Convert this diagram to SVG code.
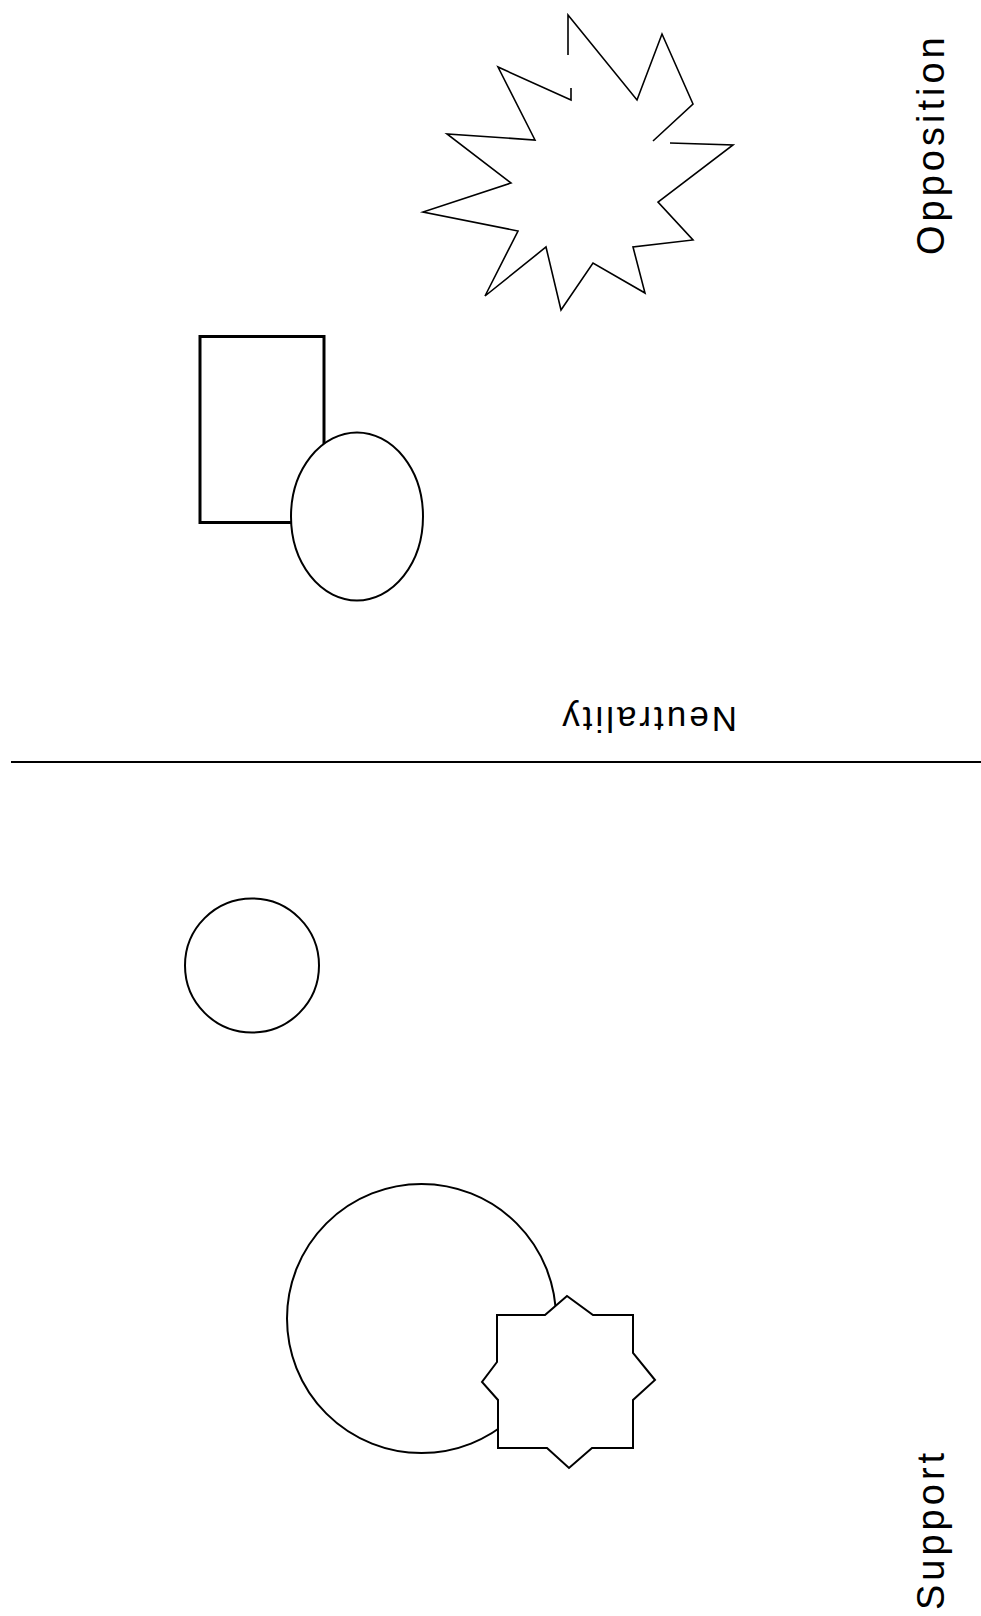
<svg xmlns="http://www.w3.org/2000/svg" width="981" height="1616" viewBox="0 0 981 1616">
<style>
.s{fill:#fff;stroke:#000;stroke-width:2}
.o{fill:none;stroke:#000;stroke-width:1.6;stroke-linejoin:miter}
.t{font-family:"Liberation Sans",Arial,sans-serif;font-size:35px;fill:#000}
.v{font-size:38px}
</style>
<rect x="0" y="0" width="981" height="1616" fill="#fff"/>
<g id="burst">
<path class="o" d="M568,55 L568,15 L637,100 L662,34 L693,104 L653,141 M670,143 L733,145 L658,202 L693,240 L633,247 L645,293 L593,263 L561,310 L546,247 L485,296 L518,231 L423,212 L511,183 L447,134 L535,140 L498,67 L571,100 L571,88"/>
</g>
<g id="rectangle">
<rect x="200" y="336.5" width="124" height="186" fill="#fff" stroke="#000" stroke-width="3"/>
</g>
<g id="ellipse">
<ellipse class="s" cx="357" cy="516.5" rx="66" ry="84"/>
</g>
<g id="circle-small">
<circle class="s" cx="252" cy="965.5" r="67"/>
</g>
<g id="circle-large">
<circle class="s" cx="421.5" cy="1318.5" r="134.5"/>
</g>
<g id="star8">
<path class="s" d="M497,1315 L545,1315 L567,1296 L593,1315 L633,1315 L633,1353 L655,1380 L633,1400 L633,1448 L592,1448 L569,1468 L547,1448 L498,1448 L498,1400 L482,1382 L497,1362 Z"/>
</g>
<g id="divider">
<line x1="11" y1="762" x2="981" y2="762" stroke="#000" stroke-width="2"/>
</g>
<g id="labels">
<text class="t v" x="944" y="255" letter-spacing="4" transform="rotate(-90 944 255)">Opposition</text>
<text class="t v" x="944" y="1610" letter-spacing="4" transform="rotate(-90 944 1610)">Support</text>
<text class="t" x="737" y="707" letter-spacing="3" transform="rotate(180 737 707)">Neutrality</text>
</g>
</svg>
